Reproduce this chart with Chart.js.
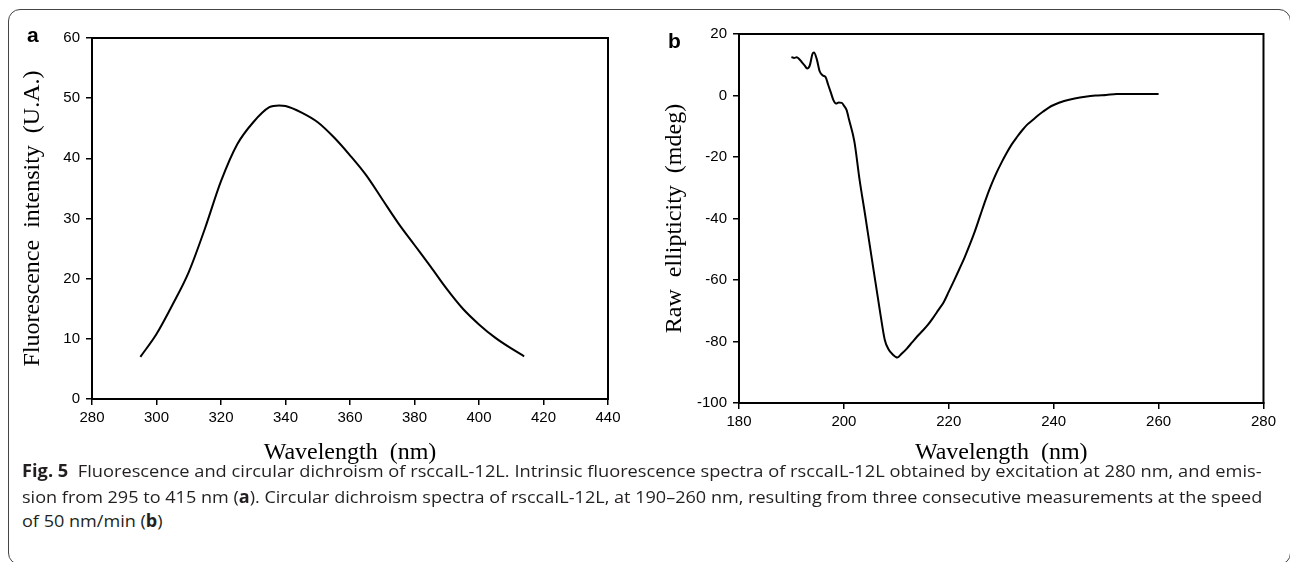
<!DOCTYPE html>
<html>
<head>
<meta charset="utf-8">
<script src="https://cdn.jsdelivr.net/npm/chart.js@4.4.1/dist/chart.umd.min.js"></script>
<style>
  body { margin: 0; background: #fff; width: 1290px; height: 562px; overflow: hidden; position: relative; }
  .frame { position: absolute; left: 8px; top: 9px; width: 1283px; height: 556px; border: 1px solid #444; border-radius: 12px; box-sizing: border-box; }
  #chartA { position: absolute; left: 0; top: 0; }
  #chartB { position: absolute; left: 640px; top: 0; }
  .panel { position: absolute; font-family: "Liberation Sans", Arial, sans-serif; font-weight: bold; font-size: 21px; line-height: 1; color: #000; }
  .cap { position: absolute; left: 22px; white-space: nowrap; font-family: "Open Sans", "Noto Sans", sans-serif; font-size: 17px; line-height: 20px; color: #231f20; transform-origin: 0 0; }
</style>
</head>
<body>
<div class="frame"></div>
<canvas id="chartA" width="640" height="480"></canvas>
<canvas id="chartB" width="640" height="480"></canvas>
<div class="panel" style="left:27px; top:24px;">a</div>
<div class="panel" style="left:668px; top:30px;">b</div>
<div class="cap" id="cap1" style="top:461px;"><b>Fig. 5</b>&nbsp; Fluorescence and circular dichroism of rsccaIL-12L. Intrinsic fluorescence spectra of rsccaIL-12L obtained by excitation at 280 nm, and emis-</div>
<div class="cap" id="cap2" style="top:487px;">sion from 295 to 415 nm (<b>a</b>). Circular dichroism spectra of rsccaIL-12L, at 190–260 nm, resulting from three consecutive measurements at the speed</div>
<div class="cap" id="cap3" style="top:511px;">of 50 nm/min (<b>b</b>)</div>
<script>
// a. 형광 스펙트럼
let wavelengthA = [295, 300, 305, 310, 315, 320, 325, 330, 335, 338, 340, 345, 350, 355, 360, 365, 370, 375, 380, 385, 390, 395, 400, 405, 410, 414];
let fluorescence = [7.0, 10.8, 15.7, 21.1, 28.3, 36.2, 42.3, 46.0, 48.5, 48.8, 48.7, 47.6, 46.0, 43.5, 40.5, 37.2, 33.2, 29.2, 25.6, 22.0, 18.3, 15.0, 12.4, 10.2, 8.4, 7.1];
let xTicksA = [280, 300, 320, 340, 360, 380, 400, 420, 440];
let yTicksA = [0, 10, 20, 30, 40, 50, 60];

// b. CD 스펙트럼
let wavelengthB = [190, 190.5, 191, 191.5, 192, 192.5, 193, 193.5, 194, 194.3, 194.8, 195.4, 196, 196.5, 197, 197.5, 198, 198.5, 199, 199.6, 200, 200.5, 201, 202, 203, 204, 205, 206, 207, 207.8, 208.5, 209.3, 210.2, 211, 212, 213, 214, 215, 216, 217, 218, 219, 220, 221, 222, 223, 224, 225, 226, 227, 228, 229, 230, 231, 232, 233, 234, 235, 236, 237, 238, 239, 240, 242, 244, 246, 248, 250, 252, 256, 260];
let ellipticity = [12.5, 12.2, 12.4, 11.8, 10.8, 9.8, 8.8, 9.8, 13.5, 14.0, 12.0, 7.8, 6.5, 6.0, 3.5, 1.0, -1.5, -2.6, -2.3, -2.4, -3.3, -4.7, -8.0, -15.0, -27.5, -38.3, -49.5, -60.5, -71.5, -79.5, -82.5, -84.2, -85.2, -84.0, -82.3, -80.3, -78.3, -76.5, -74.6, -72.3, -69.8, -67.3, -63.8, -60.2, -56.5, -52.7, -48.5, -44.0, -39.0, -34.0, -29.5, -25.5, -22.0, -18.8, -15.9, -13.5, -11.3, -9.4, -8.0, -6.5, -5.2, -4.0, -3.1, -1.8, -1.0, -0.4, 0.0, 0.2, 0.5, 0.5, 0.5];
let xTicksB = [180, 200, 220, 240, 260, 280];
let yTicksB = [-100, -80, -60, -40, -20, 0, 20];

// 플롯 영역 테두리 (위/오른쪽 포함)
const plotBox = {
    id: 'plotBox',
    afterDraw(chart) {
        const ctx = chart.ctx;
        const a = chart.chartArea;
        ctx.save();
        ctx.strokeStyle = '#000';
        ctx.lineWidth = 2;
        ctx.strokeRect(a.left, a.top, a.right - a.left, a.bottom - a.top);
        ctx.restore();
    }
};

function makeChart(id, xs, ys, xTicks, yTicks, xTitle, yTitle, s) {
    let tickFont = { family: '"Liberation Sans", Arial, sans-serif', size: 15 };
    let titleFont = { family: '"Liberation Serif", "Times New Roman", serif', size: 24 };
    let grid = { display: true, drawOnChartArea: false, drawTicks: true, tickLength: 6, color: '#000', lineWidth: 1.5 };
    let border = { display: true, color: '#000', width: 2 };
    return new Chart(document.getElementById(id), {
        type: 'line',
        data: {
            datasets: [{
                data: xs.map((x, i) => ({ x: x, y: ys[i] })),
                borderColor: '#000',
                borderWidth: 2,
                pointRadius: 0,
                cubicInterpolationMode: 'monotone',
                fill: false
            }]
        },
        options: {
            responsive: false,
            animation: false,
            devicePixelRatio: 1,
            layout: { padding: s.padding },
            plugins: { legend: { display: false }, tooltip: { enabled: false } },
            scales: {
                x: {
                    type: 'linear',
                    min: xTicks[0],
                    max: xTicks[xTicks.length - 1],
                    afterBuildTicks: scale => { scale.ticks = xTicks.map(v => ({ value: v })); },
                    afterFit: scale => { scale.height = s.xHeight; },
                    ticks: { color: '#000', font: tickFont, padding: 4, maxRotation: 0, autoSkip: false },
                    grid: grid,
                    border: border,
                    title: { display: true, text: xTitle, color: '#000', font: titleFont, padding: { top: 0, bottom: 3 } }
                },
                y: {
                    type: 'linear',
                    min: yTicks[0],
                    max: yTicks[yTicks.length - 1],
                    afterBuildTicks: scale => { scale.ticks = yTicks.map(v => ({ value: v })); },
                    afterFit: scale => { scale.width = s.yWidth; },
                    ticks: { color: '#000', font: tickFont, padding: 6, autoSkip: false },
                    grid: grid,
                    border: border,
                    title: { display: true, text: yTitle, color: '#000', font: titleFont, padding: { top: s.yTitlePad, bottom: 0 } }
                }
            }
        },
        plugins: [plotBox]
    });
}

makeChart('chartA', wavelengthA, fluorescence, xTicksA, yTicksA,
    'Wavelength  (nm)', 'Fluorescence  intensity  (U.A.)',
    { padding: { left: 10, top: 38, right: 32, bottom: 10 }, yWidth: 82, xHeight: 71, yTitlePad: 8.6 });

makeChart('chartB', wavelengthB, ellipticity, xTicksB, yTicksB,
    'Wavelength  (nm)', 'Raw  ellipticity  (mdeg)',
    { padding: { left: 10, top: 34, right: 15, bottom: 10 }, yWidth: 89, xHeight: 67, yTitlePad: 10.6 });

// 캡션 줄 너비 맞추기
let capWidth = 1240;
let c1 = document.getElementById('cap1');
let c2 = document.getElementById('cap2');
let c3 = document.getElementById('cap3');
let k1 = capWidth / c1.offsetWidth;
let k2 = capWidth / c2.offsetWidth;
c1.style.transform = 'scaleX(' + k1 + ')';
c2.style.transform = 'scaleX(' + k2 + ')';
c3.style.transform = 'scaleX(' + k2 + ')';
</script>
</body>
</html>
